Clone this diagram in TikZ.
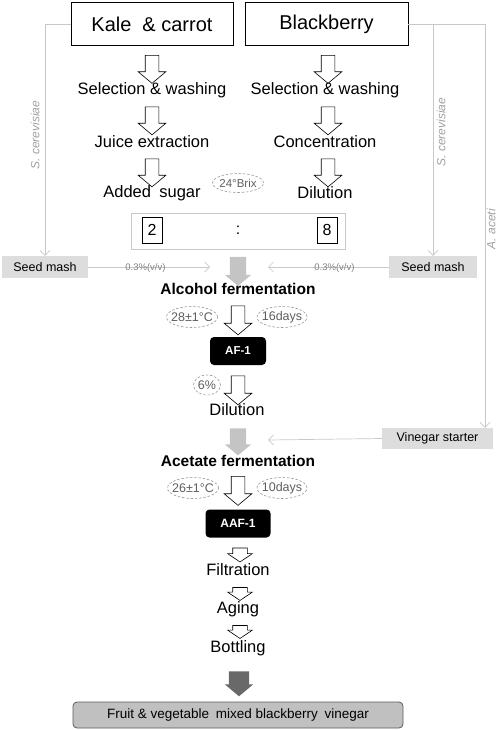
\documentclass[tikz,border=0pt]{standalone}
\usepackage{fontspec}
\setmainfont{Liberation Sans}
\usetikzlibrary{shapes.geometric, shapes.arrows, arrows.meta}

\definecolor{feedgray}{RGB}{200,200,200}
\definecolor{boxgray}{RGB}{221,221,221}
\definecolor{flowgray}{RGB}{196,196,196}
\definecolor{darkflow}{RGB}{105,105,105}
\definecolor{tagline}{RGB}{150,150,150}
\definecolor{tagtext}{RGB}{95,95,95}
\definecolor{endfill}{RGB}{192,192,192}
\definecolor{endline}{RGB}{90,90,90}

\newcommand{\tagged}[1]{\makebox[0pt]{#1}}

\tikzset{
  fruitbox/.style={draw, line width=0.8pt, minimum width=162pt, minimum height=43pt, inner sep=0pt, font=\fontsize{20}{22}\selectfont},
  steptext/.style={inner sep=0pt, font=\fontsize{16.5}{18}\selectfont},
  stagetext/.style={inner sep=0pt, font=\fontsize{15.5}{17}\selectfont\bfseries},
  hollow/.style={single arrow, draw, line width=0.6pt, fill=white, shape border rotate=270,
    inner ysep=0pt, inner xsep=6.5pt, single arrow head extend=7pt, single arrow tip angle=100, minimum height=28pt},
  smallhollow/.style={hollow, inner xsep=7pt, single arrow head extend=5pt, single arrow tip angle=112, minimum height=14pt},
  flowarrow/.style={single arrow, draw=none, fill=flowgray, shape border rotate=270,
    inner ysep=0pt, inner xsep=8pt, single arrow head extend=5pt, single arrow tip angle=100, minimum height=29pt},
  tag/.style={ellipse, draw=tagline, dashed, dash pattern=on 2.5pt off 1.8pt, line width=0.6pt,
    minimum width=51pt, minimum height=21pt, inner sep=0pt, text=tagtext, font=\fontsize{12.5}{14}\selectfont},
  starter/.style={fill=boxgray, minimum height=22pt, inner sep=0pt, font=\fontsize{12.5}{14}\selectfont},
  strain/.style={black, fill=black, rounded corners=4pt, minimum height=28pt, inner sep=0pt,
    text=white, font=\fontsize{11.5}{13}\selectfont\bfseries},
  species/.style={rotate=90, inner sep=0pt, text=feedgray!80!black, font=\fontsize{12}{14}\selectfont\itshape},
  dose/.style={inner sep=0pt, text=black!50, font=\fontsize{9.5}{11}\selectfont},
  feed/.style={draw=feedgray, line width=0.7pt, -{Straight Barb[length=5pt,width=10pt]}}
}

\begin{document}
\begin{tikzpicture}[x=1pt, y=-1pt]
    \useasboundingbox (0,0) rectangle (501,730);

    % raw materials
    \node[fruitbox] (kale) at (152,24) {Kale\hspace{0.55em}\& carrot};
    \node[fruitbox, minimum width=163pt] (berry) at (326.5,24) {Blackberry};

    % kale and carrot line
    \node[hollow] (ka1) at (152,66.5) {};
    \node[steptext] (kwash) at (152,90) {Selection \& washing};
    \node[hollow] (ka2) at (152,118) {};
    \node[steptext] (juice) at (152,142) {Juice extraction};
    \node[hollow] (ka3) at (152,170) {};
    \node[steptext] (sugar) at (152,193) {Added\hspace{0.5em}sugar};

    % blackberry line
    \node[hollow] (ba1) at (328,66.5) {};
    \node[steptext] (bwash) at (325,90) {Selection \& washing};
    \node[hollow] (ba2) at (328,118) {};
    \node[steptext] (conc) at (325,142) {Concentration};
    \node[hollow] (ba3) at (328,170) {};
    \node[steptext] (bdil) at (325,193) {Dilution};

    \node[tag, minimum height=19pt, font=\fontsize{11.5}{13}\selectfont] (brix) at (238,183) {\tagged{24°Brix}};

    % mixing ratio
    \node[draw=feedgray, line width=0.8pt, minimum width=214pt, minimum height=36pt, inner sep=0pt] (ratio) at (238,231) {};
    \node[draw, line width=0.6pt, minimum width=20pt, minimum height=26pt, inner sep=0pt, font=\fontsize{16}{18}\selectfont] (two) at (152,230) {2};
    \node[inner sep=0pt, font=\fontsize{16}{18}\selectfont] (colon) at (238,230) {:};
    \node[draw, line width=0.6pt, minimum width=20pt, minimum height=26pt, inner sep=0pt, font=\fontsize{16}{18}\selectfont] (eight) at (327,230) {8};

    % alcohol fermentation
    \node[flowarrow] (fa1) at (238,268) {};
    \node[starter, minimum width=86pt] (seedL) at (45,267) {Seed mash};
    \node[starter, minimum width=88pt] (seedR) at (433,267) {Seed mash};
    \node[stagetext] (alc) at (238,289) {Alcohol fermentation};
    \node[tag] (temp1) at (192,317) {\tagged{28±1°C}};
    \node[hollow, minimum height=29pt] (aa1) at (238,317.5) {};
    \node[tag, minimum width=50pt] (days1) at (282,317) {\tagged{16days}};
    \node[strain, minimum width=56pt] (af) at (238,351) {AF-1};
    \node[tag, minimum width=27pt, minimum height=20pt] (alcpct) at (207,385) {\tagged{6\%}};
    \node[hollow, minimum height=29pt] (aa2) at (238,387.5) {};
    \node[steptext] (dil) at (237,410) {Dilution};

    % acetate fermentation
    \node[flowarrow, minimum height=27pt] (fa2) at (238,438.5) {};
    \node[starter, minimum width=111pt, minimum height=21pt] (vstart) at (437.5,438.5) {Vinegar starter};
    \node[stagetext] (acet) at (238,461) {Acetate fermentation};
    \node[tag] (temp2) at (193,488) {\tagged{26±1°C}};
    \node[hollow, minimum height=29pt] (aa3) at (238,488) {};
    \node[tag, minimum width=50pt] (days2) at (282,488) {\tagged{10days}};
    \node[strain, minimum width=65pt, font=\fontsize{12}{14}\selectfont\bfseries] (aaf) at (238,523.5) {AAF-1};

    % finishing
    \node[smallhollow] (sa1) at (240,552.5) {};
    \node[steptext] (filt) at (238,570) {Filtration};
    \node[smallhollow, minimum height=13pt] (sa2) at (240,591.5) {};
    \node[steptext] (aging) at (238,609) {Aging};
    \node[smallhollow, minimum height=13pt] (sa3) at (240,629.5) {};
    \node[steptext] (bottle) at (238,648) {Bottling};
    \node[flowarrow, fill=darkflow, inner xsep=10pt, single arrow head extend=4pt, minimum height=25pt] (fa3) at (239,679.5) {};
    \node[draw=endline, fill=endfill, line width=0.8pt, rounded corners=4pt, minimum width=330pt, minimum height=26pt,
      inner sep=0pt, font=\fontsize{13.5}{15}\selectfont] (product) at (238,715) {Fruit \& vegetable\hspace{0.5em}mixed blackberry\hspace{0.5em}vinegar};

    % inoculum lines
    \draw[feed] (kale.west) -| (seedL.north);
    \draw[feed] (berry.east) -| (seedR.north);
    \coordinate (aceline) at (485,24);
    \draw[feed] (berry.east) -- (aceline) -- (aceline |- vstart.north);
    \node[species] (scL) at (35,135) {S. cerevisiae};
    \node[species] (scR) at (441,132) {S. cerevisiae};
    \node[species] (aac) at (491,229) {A. aceti};

    \coordinate (seedLtip) at (210,267);
    \coordinate (seedRtip) at (268,267);
    \coordinate (vstarttip) at (268,440);
    \draw[feed] (seedL.east) -- node[dose, pos=0.47, yshift=-1pt] (doseL) {0.3\%(v/v)} (seedLtip);
    \draw[feed] (seedR.west) -- node[dose, pos=0.45, yshift=-1pt] (doseR) {0.3\%(v/v)} (seedRtip);
    \draw[feed] (vstart.west) -- (vstarttip);
\end{tikzpicture}
\end{document}
